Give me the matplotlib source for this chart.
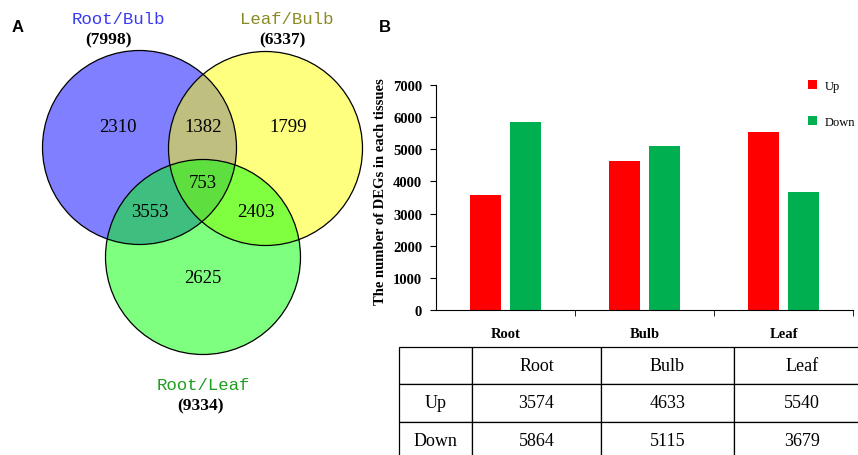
import matplotlib
matplotlib.use("Agg")
import matplotlib.pyplot as plt
from matplotlib.patches import Circle

# Venn data
set_names = ["Root/Bulb", "Leaf/Bulb", "Root/Leaf"]
set_totals = [7998, 6337, 9334]
only_rb, only_lb, only_rl = 2310, 1799, 2625
rb_lb, rb_rl, lb_rl = 1382, 3553, 2403
all_three = 753

# bar / table data
tissues = ["Root", "Bulb", "Leaf"]
up = [3574, 4633, 5540]
down = [5864, 5115, 3679]

serif = "Liberation Serif"
fig = plt.figure(figsize=(8.58, 4.56), dpi=100)

# ---- panel A: venn drawn in a pixel-like axes
va = fig.add_axes([0, 0, 370 / 858, 1])
va.set_xlim(0, 370)
va.set_ylim(456, 0)
va.axis("off")

circles = [((139.5, 148.5), 97, "#0000ff"),
           ((265.5, 149.5), 97, "#ffff00"),
           ((203, 258), 97.5, "#00ff00")]
for c, r, col in circles:
    va.add_patch(Circle(c, r, facecolor=col, alpha=0.5, lw=0))
for c, r, col in circles:
    va.add_patch(Circle(c, r, fill=False, edgecolor="black", lw=0.9))

region_vals = [only_rb, rb_lb, only_lb, all_three, rb_rl, lb_rl, only_rl]
region_pos = [(118, 128), (203, 128), (288, 128), (203, 184),
              (150, 213), (256, 213), (203, 279)]
for v, (x, y) in zip(region_vals, region_pos):
    va.text(x, y, str(v), ha="center", va="center", fontsize=13.5, family=serif)

label_cols = ["#3a3af0", "#8a8a25", "#1f9f1f"]
label_pos = [(118, 19), (287, 19), (203, 386)]
total_pos = [(108, 40), (282, 40), (201, 406)]
for name, tot, col, lp, tp in zip(set_names, set_totals, label_cols, label_pos, total_pos):
    va.text(lp[0], lp[1], name, ha="center", va="center", fontsize=12.5,
            family="Liberation Mono", color=col)
    va.text(tp[0], tp[1], f"({tot})", ha="center", va="center", fontsize=12.5,
            family=serif, fontweight="bold")

fig.text(18 / 858, 1 - 27 / 456, "A", fontsize=12, fontweight="bold",
         family="Liberation Sans", ha="center", va="center")
fig.text(385 / 858, 1 - 27 / 456, "B", fontsize=12, fontweight="bold",
         family="Liberation Sans", ha="center", va="center")

# ---- panel B: bars
ax = fig.add_axes([436 / 858, 145 / 456, 417 / 858, 225 / 456])
x = range(len(tissues))
off, w = 0.144, 0.223
b1 = ax.bar([i - off for i in x], up, width=w, color="#ff0000", label="Up")
b2 = ax.bar([i + off for i in x], down, width=w, color="#00b050", label="Down")
ax.set_xlim(-0.5, 2.5)
ax.set_ylim(0, 7000)
ax.set_yticks(range(0, 7001, 1000))
ax.set_xticks(list(x))
ax.set_xticklabels(tissues)
ax.set_xticks([0.5, 1.5, 2.5], minor=True)
ax.tick_params(axis="x", which="major", length=0, pad=12)
ax.tick_params(axis="x", which="minor", length=4, direction="out")
ax.tick_params(axis="y", length=4, direction="out", pad=6)
for lab in ax.get_xticklabels() + ax.get_yticklabels():
    lab.set_family(serif)
    lab.set_fontweight("bold")
    lab.set_fontsize(10.5)
ax.spines["top"].set_visible(False)
ax.spines["right"].set_visible(False)
ax.set_ylabel("The number of DEGs in each tissues", family=serif,
              fontweight="bold", fontsize=10.5)
ax.yaxis.set_label_coords(-0.118, 0.53)

fig.legend(handles=[b1, b2], loc="upper left",
           bbox_to_anchor=(808 / 858, 1 - 81 / 456), frameon=False,
           prop={"family": serif, "size": 9}, handlelength=0.75,
           handleheight=0.75, handletextpad=0.6, labelspacing=1.9,
           borderpad=0, borderaxespad=0)

# ---- table
tx = fig.add_axes([399 / 858, -4 / 456, (870 - 399) / 858, (460 - 348) / 456])
tx.axis("off")
cells = [[""] + tissues,
         ["Up"] + [str(v) for v in up],
         ["Down"] + [str(v) for v in down]]
cw = [73, 129, 133, 136]
cw = [c / sum(cw) for c in cw]
tab = tx.table(cellText=cells, colWidths=cw, cellLoc="center", bbox=[0, 0, 1, 1])
tab.auto_set_font_size(False)
for (r, c), cell in tab.get_celld().items():
    cell.set_linewidth(0.9)
    cell.get_text().set_fontsize(13)
    cell.get_text().set_family(serif)

fig.savefig("out.png", dpi=100)
